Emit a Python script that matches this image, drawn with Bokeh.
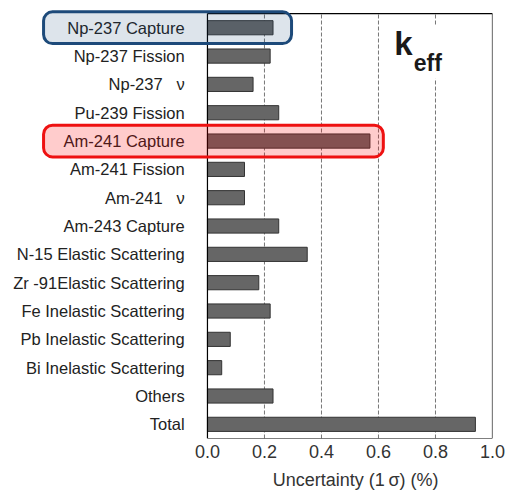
from bokeh.plotting import figure
from bokeh.models import (ColumnDataSource, Range1d, FixedTicker, BoxAnnotation,
                          Label, NumeralTickFormatter, LinearAxis)
from bokeh.core.properties import value
from bokeh.embed import file_html
from bokeh.resources import INLINE

NU = "\u00a0\u00a0\u00a0\u03bd"
categories = ["Np-237 Capture", "Np-237 Fission", "Np-237" + NU, "Pu-239 Fission",
              "Am-241 Capture", "Am-241 Fission", "Am-241" + NU, "Am-243 Capture",
              "N-15 Elastic Scattering", "Zr -91Elastic Scattering",
              "Fe Inelastic Scattering", "Pb Inelastic Scattering",
              "Bi Inelastic Scattering", "Others", "Total"]
uncertainty = [0.23, 0.22, 0.16, 0.25, 0.57, 0.13, 0.13, 0.25, 0.35, 0.18,
               0.22, 0.08, 0.05, 0.23, 0.94]
x_ticks = [0.0, 0.2, 0.4, 0.6, 0.8, 1.0]
grid_ticks = [0.2, 0.4, 0.6, 0.8]
x_title = "Uncertainty (1\u2009\u03c3) (%)"
highlight_blue = "Np-237 Capture"
highlight_red = "Am-241 Capture"

n = len(categories)
ypos = [n - 1 - i for i in range(n)]
src = ColumnDataSource(dict(y=ypos, val=uncertainty, cat=categories))

FONT = "Liberation Sans"
X0, X1 = 0.0, 1.0
Y0, Y1 = -0.5, n - 0.5

p = figure(width=509, height=492, output_backend="svg", toolbar_location=None,
           x_range=Range1d(-0.698, X1), y_range=Range1d(Y0, Y1 + 0.32),
           y_axis_location=None,
           min_border_left=8, min_border_right=17, min_border_top=4,
           min_border_bottom=54)
p.outline_line_color = None
p.background_fill_color = "white"
p.border_fill_color = "white"
p.xgrid.grid_line_color = None
p.ygrid.grid_line_color = None

# dashed grid lines inside the plot box
p.segment(x0=grid_ticks, y0=[Y0] * len(grid_ticks), x1=grid_ticks,
          y1=[Y1] * len(grid_ticks), line_color="#777777", line_dash="4 2",
          line_width=1)

# bars
p.hbar(y="y", left=0, right="val", height=0.5, source=src,
       fill_color="#666666", line_color="#333333", line_width=1)

# plot box
p.segment(x0=[X0, X1, X0, X0], y0=[Y0, Y0, Y0, Y1], x1=[X0, X1, X1, X1],
          y1=[Y1, Y1, Y0, Y1], line_color="black", line_width=1.2)

# category labels
p.text(x=-0.08, y="y", text="cat", source=src, text_align="right",
       text_baseline="middle", text_font=value(FONT), text_font_size="16.5px",
       text_color="#222222")

# x axis (tick labels)
ax = p.xaxis[0]
ax.ticker = FixedTicker(ticks=x_ticks)
ax.formatter = NumeralTickFormatter(format="0.0")
ax.axis_line_color = None
ax.major_tick_line_color = None
ax.minor_tick_line_color = None
ax.major_tick_out = 0
ax.major_tick_in = 0
ax.major_label_standoff = 6
ax.major_label_text_font = FONT
ax.major_label_text_font_size = "18px"
ax.major_label_text_color = "#333333"

# axis title as a second below axis
ax2 = LinearAxis(ticker=FixedTicker(ticks=[0.52]),
                 major_label_overrides={0.52: x_title},
                 axis_line_color=None, major_tick_line_color=None,
                 major_tick_out=0, major_tick_in=0,
                 minor_tick_line_color=None, major_label_standoff=9,
                 major_label_text_font=FONT, major_label_text_font_size="18px",
                 major_label_text_color="#333333")
p.add_layout(ax2, "below")

# highlight boxes
def hl_box(cat, right, line, fill, alpha):
    yc = ypos[categories.index(cat)]
    b = BoxAnnotation(left=-0.575, right=right, bottom=yc - 0.56, top=yc + 0.56,
                      fill_color=fill, fill_alpha=alpha, line_color=line,
                      line_width=3, line_alpha=1.0, border_radius=9,
                      level="annotation")
    p.add_layout(b)

hl_box(highlight_blue, 0.295, "#1d4a7a", "#1d4a7a", 0.15)
hl_box(highlight_red, 0.617, "#ee1111", "#ff0000", 0.2)

# gap in the 0.8 grid line behind k_eff
p.add_layout(BoxAnnotation(left=0.64, right=0.84, bottom=12.2, top=14.08,
                           fill_color="white", fill_alpha=1.0, line_color=None,
                           level="annotation"))
p.add_layout(Label(x=0.655, y=13.44, text="k", text_font=FONT,
                   text_font_style="bold", text_font_size="33px",
                   text_color="#1a1a1a", text_baseline="alphabetic"))
p.add_layout(Label(x=0.724, y=12.74, text="eff", text_font=FONT,
                   text_font_style="bold", text_font_size="23px",
                   text_color="#1a1a1a", text_baseline="alphabetic"))

open("out.html", "w").write(file_html(p, INLINE))
